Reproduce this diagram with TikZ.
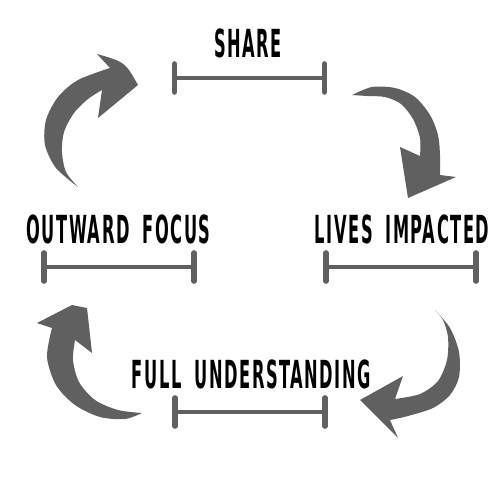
\documentclass[tikz,border=0pt]{standalone}
\usepackage{fontspec}
\newfontfamily\lblfont{DejaVu Sans Bold}[FakeStretch=0.42,LetterSpace=4,WordSpace=1.8]
\definecolor{arrgrey}{HTML}{606060}

\tikzset{tbar/.pic={
  \draw[bar] (-75,0) -- (75,0);
  \draw[tick] (-75,-14) -- (-75,14);
  \draw[tick] (75,-14) -- (75,14);
}}

\begin{document}
\begin{tikzpicture}[x=0.02cm,y=-0.02cm,
every node/.style={font=\lblfont\fontsize{22}{24}\selectfont,
  inner sep=0,anchor=base},
bar/.style={draw=arrgrey,line width=2.6pt},
tick/.style={draw=arrgrey,line width=3.2pt,line cap=round},
arr/.style={fill=arrgrey}]

\useasboundingbox (0,0) rectangle (500,500);

% labels
\node (share) at (248,58) {SHARE};
\node (outward) at (118.5,243) {OUTWARD FOCUS};
\node (lives) at (402,243) {LIVES IMPACTED};
\node (full) at (251.5,388) {FULL UNDERSTANDING};

% bars
\pic (sharebar) at (249.5,78) {tbar};
\pic (outwardbar) at (119,267) {tbar};
\pic (livesbar) at (401,267) {tbar};
\pic (fullbar) at (250,412) {tbar};

% top left arrow
\fill[arr] plot[smooth] coordinates {(78,187) (56,168) (45,145) (46,120)
  (58,97) (78,80) (110,68)}
  -- (97,54) .. controls (125,62) .. (138,85) -- (98,118) -- (102,90)
  -- plot[smooth] coordinates {(102,90) (88,99) (74,113) (64,132) (62,152)
  (66,172) (78,187)} -- cycle;

% top right arrow
\fill[arr] plot[smooth] coordinates {(352,95) (372,87) (395,88) (415,97)
  (430,115) (438,135) (440,155) (440,175)}
  -- (456,177) -- (408,198) -- (400,147) -- (420,156)
  -- plot[smooth] coordinates {(420,156) (420,138) (413,119) (401,104)
  (385,97) (367,96) (352,95)} -- cycle;

% bottom left arrow
\fill[arr] plot[smooth] coordinates {(142,413) (125,419) (100,417) (75,405)
  (56,385) (47,357) (52,328)}
  -- (37,323) -- (72,305) -- (87,308) -- (92,353) -- (75,340)
  -- plot[smooth] coordinates {(75,340) (73,360) (79,382) (95,400)
  (118,410) (142,413)} -- cycle;

% bottom right arrow
\fill[arr] plot[smooth] coordinates {(435,310) (450,328) (459,352) (459,377)
  (450,395) (433,408) (408,416) (390,420)}
  -- (398,438) -- (360,400) -- (403,376) -- (395,399)
  -- plot[smooth] coordinates {(395,399) (420,394) (438,381) (447,360)
  (448,337) (443,320) (435,310)} -- cycle;

\end{tikzpicture}
\end{document}
